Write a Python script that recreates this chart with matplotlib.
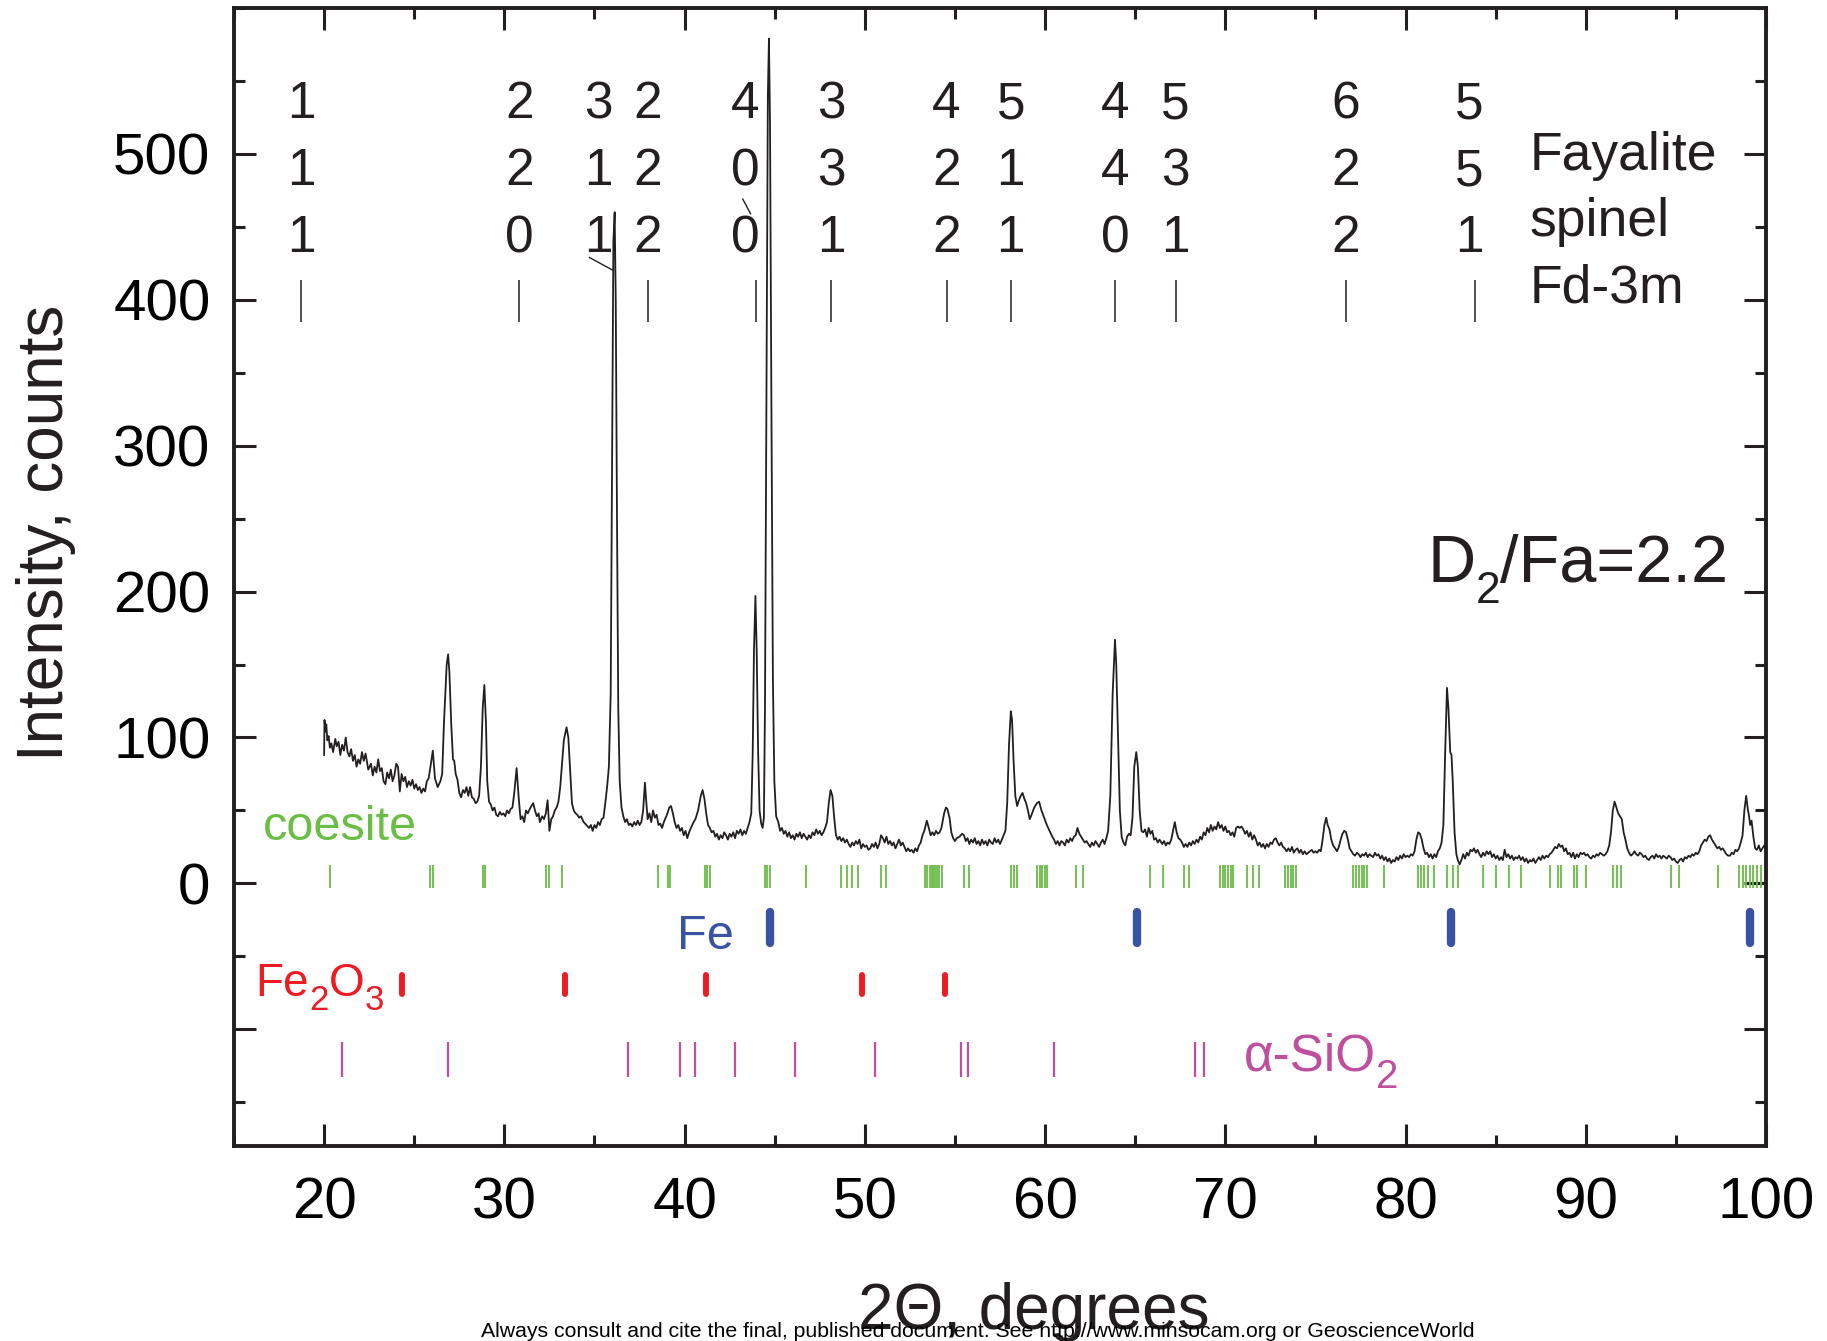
import matplotlib
matplotlib.use("Agg")
import matplotlib.pyplot as plt
from matplotlib.ticker import MultipleLocator, FixedLocator
from matplotlib.transforms import offset_copy

plt.rcParams['font.family'] = ['Liberation Sans', 'DejaVu Sans']

# XRD pattern (2theta in degrees, counts)
two_theta = [
    20.00, 20.02, 20.08, 20.12, 20.18, 20.25, 20.32, 20.40, 20.50, 20.62,
    20.70, 20.80, 20.90, 21.00, 21.10, 21.20, 21.30, 21.40, 21.50, 21.60,
    21.70, 21.80, 21.90, 22.00, 22.10, 22.20, 22.30, 22.45, 22.60, 22.70,
    22.80, 22.90, 23.00, 23.10, 23.20, 23.30, 23.40, 23.50, 23.60, 23.70,
    23.80, 23.90, 24.00, 24.10, 24.20, 24.30, 24.40, 24.50, 24.60, 24.70,
    24.80, 24.90, 25.00, 25.10, 25.20, 25.30, 25.40, 25.50, 25.60, 25.70,
    25.80, 25.90, 26.03, 26.15, 26.30, 26.45, 26.55, 26.65, 26.80, 26.88,
    26.95, 27.05, 27.15, 27.22, 27.30, 27.40, 27.50, 27.60, 27.70, 27.80,
    27.90, 28.00, 28.10, 28.20, 28.30, 28.40, 28.50, 28.60, 28.70, 28.80,
    28.89, 28.98, 29.05, 29.15, 29.25, 29.35, 29.45, 29.55, 29.65, 29.75,
    29.85, 29.95, 30.05, 30.15, 30.25, 30.35, 30.45, 30.55, 30.68, 30.80,
    30.90, 31.00, 31.10, 31.20, 31.30, 31.45, 31.60, 31.70, 31.80, 31.90,
    31.97, 32.10, 32.20, 32.30, 32.40, 32.50, 32.60, 32.70, 32.80, 32.90,
    33.00, 33.10, 33.20, 33.30, 33.45, 33.55, 33.65, 33.75, 33.85, 33.95,
    34.05, 34.15, 34.25, 34.40, 34.55, 34.70, 34.80, 34.90, 35.00, 35.10,
    35.20, 35.30, 35.40, 35.50, 35.60, 35.70, 35.80, 35.90, 35.98, 36.05,
    36.12, 36.18, 36.25, 36.32, 36.40, 36.50, 36.60, 36.70, 36.80, 36.90,
    37.00, 37.10, 37.20, 37.30, 37.40, 37.50, 37.60, 37.70, 37.80, 37.88,
    37.95, 38.05, 38.15, 38.25, 38.35, 38.45, 38.55, 38.65, 38.75, 38.85,
    38.95, 39.05, 39.15, 39.25, 39.35, 39.45, 39.55, 39.65, 39.75, 39.85,
    39.95, 40.05, 40.15, 40.25, 40.35, 40.50, 40.60, 40.75, 40.90, 41.00,
    41.10, 41.20, 41.30, 41.40, 41.50, 41.60, 41.70, 41.80, 41.90, 42.00,
    42.10, 42.20, 42.30, 42.40, 42.50, 42.60, 42.70, 42.80, 42.90, 43.00,
    43.10, 43.20, 43.30, 43.40, 43.50, 43.60, 43.70, 43.78, 43.85, 43.93,
    44.00, 44.08, 44.16, 44.25, 44.33, 44.40, 44.46, 44.54, 44.62, 44.68,
    44.74, 44.82, 44.90, 44.98, 45.08, 45.20, 45.30, 45.40, 45.50, 45.60,
    45.70, 45.80, 45.90, 46.00, 46.10, 46.20, 46.30, 46.40, 46.50, 46.60,
    46.70, 46.80, 46.90, 47.00, 47.10, 47.20, 47.30, 47.40, 47.50, 47.60,
    47.70, 47.80, 47.90, 48.00, 48.10, 48.20, 48.30, 48.40, 48.50, 48.60,
    48.70, 48.80, 48.90, 49.00, 49.10, 49.20, 49.30, 49.40, 49.50, 49.60,
    49.70, 49.80, 49.90, 50.00, 50.10, 50.20, 50.30, 50.40, 50.50, 50.60,
    50.70, 50.80, 50.90, 51.00, 51.10, 51.20, 51.30, 51.40, 51.50, 51.60,
    51.70, 51.80, 51.90, 52.00, 52.10, 52.20, 52.30, 52.40, 52.50, 52.60,
    52.70, 52.80, 52.90, 53.00, 53.10, 53.20, 53.30, 53.44, 53.55, 53.65,
    53.75, 53.85, 53.95, 54.05, 54.15, 54.25, 54.40, 54.50, 54.58, 54.70,
    54.80, 54.90, 55.00, 55.10, 55.25, 55.40, 55.50, 55.60, 55.70, 55.80,
    55.90, 56.00, 56.10, 56.20, 56.30, 56.40, 56.50, 56.60, 56.70, 56.80,
    56.90, 57.00, 57.10, 57.20, 57.30, 57.40, 57.50, 57.60, 57.70, 57.80,
    57.90, 58.00, 58.10, 58.17, 58.25, 58.35, 58.45, 58.55, 58.65, 58.75,
    58.85, 58.95, 59.05, 59.15, 59.25, 59.40, 59.55, 59.67, 59.80, 59.95,
    60.10, 60.25, 60.40, 60.50, 60.60, 60.70, 60.80, 60.90, 61.00, 61.10,
    61.20, 61.30, 61.40, 61.50, 61.60, 61.70, 61.80, 61.90, 62.00, 62.10,
    62.20, 62.30, 62.40, 62.50, 62.60, 62.70, 62.80, 62.90, 63.00, 63.10,
    63.20, 63.30, 63.40, 63.50, 63.62, 63.75, 63.88, 63.95, 64.05, 64.15,
    64.25, 64.35, 64.45, 64.55, 64.65, 64.75, 64.85, 64.95, 65.06, 65.15,
    65.25, 65.35, 65.45, 65.55, 65.65, 65.75, 65.85, 65.95, 66.05, 66.15,
    66.25, 66.35, 66.50, 66.60, 66.70, 66.80, 66.90, 67.00, 67.10, 67.20,
    67.30, 67.40, 67.50, 67.60, 67.70, 67.80, 67.90, 68.00, 68.10, 68.20,
    68.30, 68.40, 68.50, 68.60, 68.70, 68.80, 68.90, 69.00, 69.10, 69.20,
    69.30, 69.40, 69.50, 69.60, 69.70, 69.80, 69.90, 70.00, 70.10, 70.20,
    70.30, 70.40, 70.50, 70.60, 70.70, 70.80, 70.90, 71.00, 71.10, 71.20,
    71.30, 71.40, 71.50, 71.60, 71.70, 71.80, 71.90, 72.00, 72.10, 72.20,
    72.30, 72.40, 72.50, 72.60, 72.70, 72.80, 72.90, 73.00, 73.10, 73.20,
    73.30, 73.40, 73.50, 73.60, 73.70, 73.80, 73.90, 74.00, 74.10, 74.20,
    74.30, 74.40, 74.50, 74.60, 74.70, 74.80, 74.90, 75.00, 75.10, 75.20,
    75.30, 75.40, 75.50, 75.60, 75.68, 75.78, 75.88, 75.98, 76.10, 76.20,
    76.30, 76.40, 76.50, 76.60, 76.70, 76.80, 76.90, 77.00, 77.10, 77.20,
    77.30, 77.40, 77.50, 77.60, 77.70, 77.80, 77.90, 78.00, 78.10, 78.20,
    78.30, 78.40, 78.50, 78.60, 78.70, 78.80, 78.90, 79.00, 79.10, 79.20,
    79.30, 79.40, 79.50, 79.60, 79.70, 79.80, 79.90, 80.00, 80.10, 80.20,
    80.30, 80.40, 80.50, 80.60, 80.70, 80.80, 80.90, 81.00, 81.10, 81.20,
    81.30, 81.40, 81.50, 81.60, 81.70, 81.80, 81.90, 82.00, 82.10, 82.20,
    82.30, 82.38, 82.48, 82.55, 82.62, 82.72, 82.82, 82.90, 83.00, 83.10,
    83.20, 83.30, 83.40, 83.50, 83.60, 83.70, 83.80, 83.90, 84.00, 84.10,
    84.20, 84.30, 84.40, 84.50, 84.60, 84.70, 84.80, 84.90, 85.00, 85.10,
    85.20, 85.30, 85.40, 85.50, 85.60, 85.70, 85.80, 85.90, 86.00, 86.10,
    86.20, 86.30, 86.40, 86.50, 86.60, 86.70, 86.80, 86.90, 87.00, 87.10,
    87.20, 87.30, 87.40, 87.50, 87.60, 87.70, 87.80, 87.90, 88.00, 88.10,
    88.20, 88.30, 88.40, 88.50, 88.60, 88.70, 88.80, 88.90, 89.00, 89.10,
    89.20, 89.30, 89.40, 89.50, 89.60, 89.70, 89.80, 89.90, 90.00, 90.10,
    90.20, 90.30, 90.40, 90.50, 90.60, 90.70, 90.80, 90.90, 91.00, 91.10,
    91.20, 91.30, 91.40, 91.50, 91.60, 91.70, 91.80, 91.90, 92.00, 92.10,
    92.20, 92.30, 92.40, 92.50, 92.60, 92.70, 92.80, 92.90, 93.00, 93.10,
    93.20, 93.30, 93.40, 93.50, 93.60, 93.70, 93.80, 93.90, 94.00, 94.10,
    94.20, 94.30, 94.40, 94.50, 94.60, 94.70, 94.80, 94.90, 95.00, 95.10,
    95.20, 95.30, 95.40, 95.50, 95.60, 95.70, 95.80, 95.90, 96.00, 96.10,
    96.20, 96.30, 96.40, 96.50, 96.60, 96.70, 96.80, 96.90, 97.00, 97.10,
    97.20, 97.30, 97.40, 97.50, 97.60, 97.70, 97.80, 97.90, 98.00, 98.10,
    98.20, 98.30, 98.40, 98.50, 98.60, 98.70, 98.80, 98.90, 99.00, 99.05,
    99.12, 99.20, 99.30, 99.40, 99.50, 99.60, 99.70, 99.80, 99.90, 100.0,
]
counts = [
    88, 112, 104, 109, 98, 101, 93, 96, 90, 99,
    94, 97, 88, 95, 91, 100, 90, 87, 92, 84,
    88, 80, 85, 82, 90, 84, 89, 78, 82, 74,
    80, 76, 85, 77, 79, 70, 68, 76, 72, 78,
    70, 74, 82, 80, 63, 75, 70, 73, 66, 70,
    67, 71, 65, 68, 64, 66, 62, 65, 63, 70,
    72, 80, 91, 72, 66, 70, 75, 110, 150, 157,
    145, 110, 85, 84, 75, 71, 62, 59, 64, 62,
    66, 60, 66, 59, 58, 55, 56, 60, 80, 120,
    136, 110, 70, 56, 54, 50, 52, 47, 46, 49,
    47, 48, 46, 50, 48, 51, 52, 62, 79, 58,
    44, 46, 42, 50, 48, 52, 55, 50, 46, 48,
    42, 46, 44, 48, 57, 36, 44, 46, 50, 52,
    56, 66, 82, 98, 107, 100, 78, 55, 50, 48,
    47, 45, 46, 42, 40, 38, 40, 36, 40, 38,
    42, 40, 44, 45, 55, 66, 80, 130, 300, 440,
    460, 400, 250, 120, 70, 52, 46, 42, 44, 40,
    41, 39, 42, 40, 43, 40, 42, 50, 69, 55,
    44, 48, 42, 50, 45, 47, 40, 41, 38, 42,
    45, 48, 52, 53, 48, 42, 38, 40, 36, 38,
    33, 36, 31, 35, 38, 42, 44, 50, 60, 64,
    58, 48, 40, 38, 35, 36, 32, 34, 30, 33,
    31, 35, 33, 30, 34, 32, 35, 31, 36, 34,
    37, 33, 36, 34, 38, 42, 48, 90, 160, 197,
    160, 90, 50, 41, 38, 45, 120, 330, 540, 579,
    520, 320, 140, 70, 46, 42, 36, 38, 34, 36,
    32, 35, 31, 33, 30, 34, 32, 35, 31, 34,
    32, 30, 33, 31, 35, 33, 37, 34, 36, 33,
    35, 38, 42, 55, 64, 60, 45, 33, 30, 32,
    29, 31, 28, 30, 27, 25, 28, 26, 29, 27,
    30, 24, 27, 25, 26, 23, 24, 27, 25, 28,
    24, 27, 33, 31, 28, 32, 27, 29, 26, 28,
    24, 27, 30, 26, 28, 25, 22, 24, 22, 23,
    21, 24, 22, 26, 28, 33, 36, 43, 38, 33,
    35, 33, 36, 34, 35, 38, 48, 52, 51, 45,
    35, 31, 29, 31, 32, 34, 33, 29, 31, 27,
    30, 28, 31, 27, 29, 26, 30, 27, 29, 26,
    30, 28, 27, 31, 28, 30, 27, 30, 33, 36,
    55, 95, 118, 112, 85, 60, 53, 57, 60, 62,
    58, 55, 50, 44, 47, 52, 55, 56, 50, 45,
    40, 36, 32, 30, 27, 29, 26, 29, 28, 26,
    30, 28, 31, 29, 32, 33, 38, 34, 32, 30,
    28, 29, 27, 25, 28, 26, 29, 27, 25, 28,
    30, 27, 31, 36, 60, 130, 167, 150, 100, 50,
    32, 28, 26, 32, 34, 33, 45, 80, 90, 80,
    50, 36, 35, 37, 32, 38, 34, 36, 30, 31,
    28, 30, 27, 29, 26, 28, 27, 30, 36, 42,
    35, 31, 30, 28, 25, 27, 25, 28, 26, 29,
    27, 30, 28, 32, 30, 35, 33, 38, 35, 40,
    36, 39, 37, 42, 38, 40, 36, 39, 35, 36,
    33, 35, 32, 38, 39, 38, 39, 37, 34, 36,
    32, 35, 30, 33, 30, 26, 28, 25, 27, 24,
    27, 25, 28, 27, 30, 31, 28, 26, 28, 25,
    24, 22, 24, 22, 25, 21, 23, 24, 21, 23,
    20, 22, 20, 21, 22, 23, 21, 22, 21, 23,
    22, 30, 40, 45, 40, 37, 30, 26, 24, 22,
    25, 30, 34, 36, 35, 30, 24, 22, 20, 19,
    21, 20, 18, 20, 19, 21, 18, 20, 19, 18,
    21, 19, 20, 17, 19, 16, 18, 15, 17, 14,
    16, 15, 18, 16, 19, 17, 20, 18, 19, 18,
    20, 19, 22, 30, 35, 34, 30, 24, 20, 21,
    18, 20, 17, 20, 18, 22, 24, 28, 40, 90,
    134, 120, 90, 88, 70, 35, 20, 16, 13, 16,
    20, 17, 21, 19, 23, 22, 24, 21, 23, 20,
    18, 21, 19, 22, 20, 22, 18, 20, 17, 19,
    16, 18, 16, 23, 18, 20, 17, 19, 16, 18,
    17, 19, 16, 18, 15, 17, 14, 16, 15, 17,
    14, 16, 18, 16, 19, 17, 19, 18, 20, 21,
    23, 25, 24, 27, 25, 26, 22, 24, 20, 21,
    18, 21, 17, 20, 18, 21, 20, 21, 19, 20,
    18, 17, 19, 18, 20, 19, 21, 20, 19, 20,
    22, 26, 35, 50, 56, 52, 48, 46, 44, 35,
    30, 24, 21, 19, 20, 22, 20, 19, 21, 20,
    18, 19, 17, 16, 18, 19, 17, 20, 18, 19,
    17, 19, 18, 17, 19, 18, 16, 17, 15, 14,
    16, 17, 15, 18, 17, 19, 18, 20, 19, 21,
    20, 22, 26, 28, 30, 29, 32, 33, 30, 28,
    26, 24, 25, 23, 24, 22, 20, 19, 19, 21,
    20, 23, 22, 24, 28, 33, 50, 60, 50, 47,
    40, 43, 32, 24, 23, 26, 22, 24, 26, 23,
]
assert len(two_theta) == len(counts)

# Fayalite spinel (Fd-3m) reflections
hkl_labels = ["111", "220", "311", "222", "400", "331",
              "422", "511", "440", "531", "622", "551"]
hkl_text_x = [18.72, 30.84, 35.2, 37.98, 43.36, 48.12,
              54.52, 58.1, 63.88, 67.24, 76.68, 83.55]
hkl_tick_x = [18.7, 30.84, 37.97, 43.97, 48.13, 54.55,
              58.12, 63.9, 67.25, 76.7, 83.85]
leader_311 = ([34.72, 36.06], [429, 420])
leader_400 = ([43.23, 43.66], [469, 459])

coesite_x = [20.3, 25.9, 26.02, 28.8, 28.93, 32.33, 32.47, 33.18, 38.52, 39.06,
             39.2, 41.11, 41.25, 41.39, 44.45, 44.59, 44.73, 46.76, 48.7, 49.0,
             49.28, 49.6, 50.9, 51.16, 53.34, 53.45, 53.6, 53.7, 53.8, 53.9,
             54.0, 54.13, 54.26, 55.5, 55.77, 58.1, 58.26, 58.43, 59.57, 59.7,
             59.84, 59.97, 60.1, 61.74, 62.13, 65.81, 66.56, 67.71, 67.98, 69.68,
             69.85, 70.01, 70.17, 70.34, 70.44, 71.22, 71.52, 71.88, 73.29, 73.46,
             73.62, 73.78, 73.95, 77.07, 77.23, 77.4, 77.56, 77.72, 77.89, 78.8,
             80.71, 80.84, 81.04, 81.23, 81.56, 82.32, 82.65, 82.91, 84.29, 85.04,
             85.76, 86.42, 88.0, 88.45, 88.65, 89.37, 89.54, 90.03, 91.51, 91.74,
             91.93, 94.72, 95.15, 97.35, 98.5, 98.7, 98.89, 99.09, 99.29, 99.48,
             99.71]
fe_x = [44.72, 65.12, 82.5, 99.13]
fe2o3_x = [24.3, 33.38, 41.17, 49.86, 54.45]
sio2_x = [21.0, 26.88, 36.84, 39.77, 40.6, 42.78, 46.14, 50.56, 55.32, 55.72,
          60.47, 68.3, 68.82]

GREEN = '#6abd45'
BLUE = '#3953a4'
RED = '#ed1c24'
MAGENTA = '#bf4e9e'
INK = '#231f20'

fig = plt.figure(figsize=(18.27, 13.41), dpi=100)
ax = fig.add_axes([234 / 1827, 1 - 1146 / 1341, 1532 / 1827, 1138 / 1341])
ax.set_xlim(15, 100)
ax.set_ylim(-180, 600)
renderer = fig.canvas.get_renderer()


def rich_text(x, y, runs, color):
    # runs: (text, fontsize, vertical shift in points), laid out left to right
    off = 0.0
    for s, size, dy in runs:
        tr = offset_copy(ax.transData, fig=fig, x=off, y=dy, units='points')
        t = ax.text(x, y, s, transform=tr, ha='left', va='baseline',
                    fontsize=size, color=color)
        off += t.get_window_extent(renderer=renderer).width * 72 / fig.dpi


ax.plot(two_theta, counts, color=INK, lw=1.3)

# phase tick marks
ax.vlines(coesite_x, -3.5, 12.3, color=GREEN, lw=1.3)
ax.vlines(fe_x, -19.5, -41, color=BLUE, lw=6, capstyle='round')
ax.vlines(fe2o3_x, -63, -76, color=RED, lw=4.3, capstyle='round')
ax.vlines(sio2_x, -109, -133, color=MAGENTA, lw=1.6)

# fayalite spinel indexing
ax.vlines(hkl_tick_x, 384.7, 413.4, color=INK, lw=1.1)
for x, lab in zip(hkl_text_x, hkl_labels):
    for k, ch in enumerate(lab):
        ax.text(x, 524.3 - 45.9 * k, ch, ha='center', va='baseline', fontsize=37,
                color=INK)
ax.plot(*leader_311, color=INK, lw=1.0)
ax.plot(*leader_400, color=INK, lw=1.0)

for k, line in enumerate(["Fayalite", "spinel", "Fd-3m"]):
    ax.text(86.9, 488.7 - 45.2 * k, line, ha='left', va='baseline', fontsize=38.5,
            color=INK)

rich_text(81.2, 206.4, [("D", 48, 0), ("2", 32, -15), ("/Fa=2.2", 48, 0)], INK)
ax.text(16.6, 29.5, "coesite", ha='left', va='baseline', fontsize=35, color=GREEN)
ax.text(39.58, -44.8, "Fe", ha='left', va='baseline', fontsize=35, color=BLUE)
rich_text(16.2, -77, [("Fe", 33, 0), ("2", 25, -10.5), ("O", 33, 0),
                      ("3", 25, -10.5)], RED)
rich_text(71.03, -128.5, [("α-SiO", 37, 0), ("2", 29, -12)], MAGENTA)

ax.xaxis.set_major_locator(MultipleLocator(10))
ax.xaxis.set_minor_locator(MultipleLocator(5))
ax.yaxis.set_major_locator(FixedLocator([-100, 0, 100, 200, 300, 400, 500]))
ax.yaxis.set_minor_locator(MultipleLocator(50))
ax.set_yticklabels(["", "0", "100", "200", "300", "400", "500"])
ax.tick_params(which='both', direction='in', top=True, right=True,
               labelsize=42, width=2.2, color=INK)
ax.tick_params(which='major', length=16)
ax.tick_params(which='minor', length=8)
ax.tick_params(axis='y', pad=17)
ax.tick_params(axis='x', pad=22)
for s in ax.spines.values():
    s.set_linewidth(2.8)
    s.set_color(INK)

fig.text(46 / 1827, 0.603, "Intensity, counts", rotation=90, ha='center',
         va='center', fontsize=46, color=INK)
fig.text(0.566, 0.009, "2Θ, degrees", ha='center', va='baseline', fontsize=46,
         color=INK)
fig.text(0.535, 0.003, "Always consult and cite the final, published document. "
         "See http://www.minsocam.org or GeoscienceWorld", ha='center',
         va='baseline', fontsize=15.3, color='black')

fig.savefig("out.png", dpi=100)
